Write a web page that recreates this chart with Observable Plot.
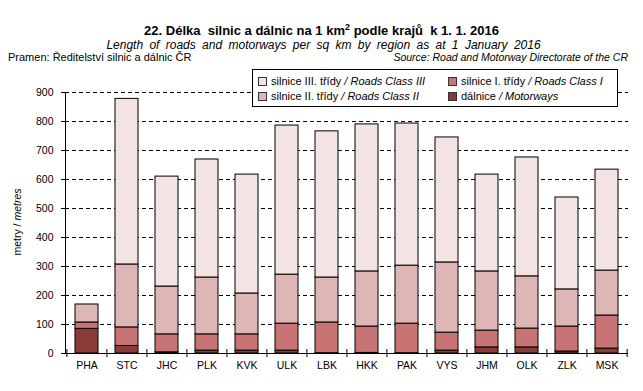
<!DOCTYPE html>
<html><head><meta charset="utf-8">
<script src="https://cdn.jsdelivr.net/npm/d3@7"></script>
<script src="https://cdn.jsdelivr.net/npm/@observablehq/plot@0.6"></script>
<style>
body{margin:0;background:#fff;}
#wrap{position:relative;width:643px;height:391px;overflow:hidden;font-family:"Liberation Sans",Arial,sans-serif;color:#000;background:#fff;}
#wrap svg{position:absolute;left:0;top:0;}
.t{position:absolute;white-space:nowrap;line-height:1;}
.lg{position:absolute;left:252px;top:69px;width:364px;height:36px;border:1px solid #000;background:#fff;}
.sw{position:absolute;width:7px;height:7px;border:1px solid #333;}
.lt{position:absolute;white-space:nowrap;line-height:1;font-size:11px;}
</style></head><body><div id="wrap"></div>
<script>
const regions = ["PHA","STC","JHC","PLK","KVK","ULK","LBK","HKK","PAK","VYS","JHM","OLK","ZLK","MSK"];
const motorways = [85, 26, 4, 10, 10, 10, 1, 2, 1, 10, 21, 21, 7, 17];
const class1    = [22, 64, 62, 56, 56, 93, 106, 91, 102, 62, 58, 65, 86, 114];
const class2    = [62, 217, 165, 196, 141, 169, 155, 190, 200, 242, 204, 180, 128, 155];
const class3    = [0, 571, 379, 407, 410, 514, 504, 507, 490, 431, 334, 410, 317, 348];
const series = ["dálnice","silnice I. třídy","silnice II. třídy","silnice III. třídy"];
const seriesEn = ["Motorways","Roads Class I","Roads Class II","Roads Class III"];
const colors = ["#8b3a3a","#c87474","#dfb6b6","#f3e3e3"];
const yTicks = [0,100,200,300,400,500,600,700,800,900];

const W=643,H=391,mL=65,mR=15,mT=92,mB=38;
const step=(W-mL-mR)/regions.length;
const vals=[motorways,class1,class2,class3];
const data = regions.flatMap((r,i)=>series.map((s,k)=>({region:r, series:s, value:vals[k][i]})));

const plot = Plot.plot({
  width:W,height:H,marginLeft:mL,marginRight:mR,marginTop:mT,marginBottom:mB,
  style:{fontFamily:"'Liberation Sans', Arial, sans-serif",fontSize:"10.5px",color:"#000",background:"transparent"},
  x:{domain:regions,paddingInner:0.43,paddingOuter:0.215,axis:null,label:null},
  y:{domain:[0,900],axis:null,label:null},
  color:{domain:series,range:colors},
  marks:[
    Plot.gridY(yTicks.filter(v=>v>0),{stroke:"#000",strokeOpacity:1,strokeDasharray:"4,3"}),
    Plot.barY(data,{x:"region",y:"value",fill:"series",order:series,stroke:"#000",strokeWidth:1}),
    Plot.ruleY([0],{stroke:"#000"}),
    Plot.frame({anchor:"left",stroke:"#000"}),
    Plot.axisY(yTicks,{tickSize:4,tickPadding:8,label:null,tickFormat:d=>String(d)}),
    Plot.axisX({tickSize:0,tickPadding:8,label:null}),
    Plot.axisX({ticks:regions,tickSize:8,dy:-4,dx:-step/2,tickFormat:()=>"",label:null}),
    Plot.axisX({ticks:[regions[regions.length-1]],tickSize:8,dy:-4,dx:step/2,tickFormat:()=>"",label:null})
  ]
});
const wrap=document.getElementById("wrap");
wrap.appendChild(plot);

function txt(html,x,base,size,opts={}){
  const d=document.createElement("div");
  d.className="t";
  d.innerHTML=html;
  d.style.fontSize=size+"px";
  d.style.top=(base-0.85*size)+"px";
  if(opts.weight) d.style.fontWeight=opts.weight;
  if(opts.italic) d.style.fontStyle="italic";
  if(opts.anchor==="middle"){d.style.left="0px";d.style.width=W+"px";d.style.textAlign="center";d.style.marginLeft=(x-W/2)+"px";}
  else if(opts.anchor==="end"){d.style.right=(W-x)+"px";}
  else d.style.left=x+"px";
  if(opts.ls) d.style.letterSpacing=opts.ls;
  if(opts.ws) d.style.wordSpacing=opts.ws;
  wrap.appendChild(d);
  return d;
}
txt('22. Délka &nbsp;silnic a dálnic na 1 km<span style="font-size:9px;position:relative;top:-5px">2</span> podle krajů &nbsp;k 1. 1. 2016',321.5,35,13,{anchor:"middle",weight:"bold"});
txt('Length of roads and motorways per sq km by region as at 1 January 2016',323.5,49,12,{anchor:"middle",italic:true,ws:"3px"});
txt('Pramen: Ředitelství silnic a dálnic ČR',8,61,11);
txt('Source: Road and Motorway Directorate of the CR',628,61,10.5,{anchor:"end",italic:true});

// y label
const yl=document.createElement("div");
yl.className="t";
yl.style.fontSize="10.5px";
yl.style.left="17px";yl.style.top="222px";
yl.style.transform="translate(-50%,-50%) rotate(-90deg)";
yl.innerHTML='metry / <i>metres</i>';
wrap.appendChild(yl);

// legend
const lg=document.createElement("div");lg.className="lg";wrap.appendChild(lg);
const items=[[3,0,0],[1,1,0],[2,0,1],[0,1,1]];
items.forEach(([k,col,row])=>{
  const sx=col?195:5, cy=row?26.5:11.5;
  const sw=document.createElement("div");sw.className="sw";
  sw.style.left=sx+"px";sw.style.top=(cy-4.5)+"px";sw.style.background=colors[k];
  lg.appendChild(sw);
  const t=document.createElement("div");t.className="lt";
  t.style.left=(sx+13)+"px";t.style.top=(cy+4-0.85*11)+"px";
  t.innerHTML=series[k]+' <i>/ '+seriesEn[k]+'</i>';
  lg.appendChild(t);
});
</script></body></html>
